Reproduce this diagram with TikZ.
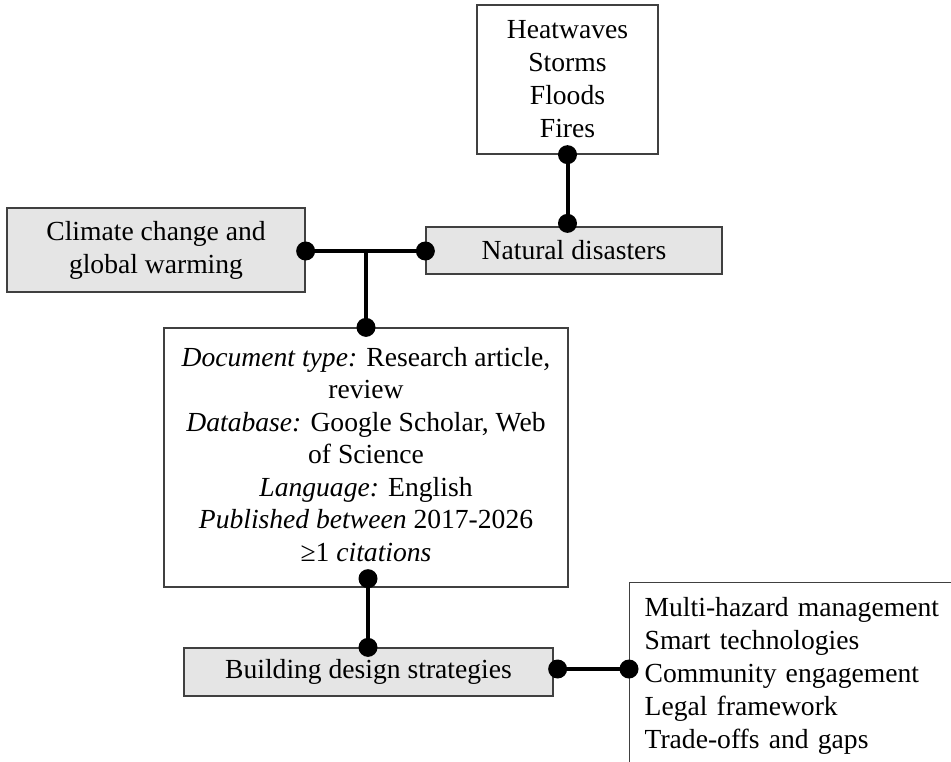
\documentclass[tikz,border=0pt]{standalone}
\usepackage{fontspec}
\setmainfont{Liberation Serif}
\usetikzlibrary{calc}
\begin{document}
\begin{tikzpicture}[x=1pt,y=-1pt,
  box/.style={draw=black!75, line width=1.3pt, inner sep=0pt, align=center,
    font=\fontsize{27.6}{33}\selectfont},
  shaded/.style={box, fill=black!10},
  link/.style={line width=4pt},
  joint/.style={fill=black}]
\useasboundingbox (0,0) rectangle (951,761);
\clip (0,0) rectangle (951,761);

% boxes
\node[box, minimum width=181pt, minimum height=149pt] (hazards) at (567.5,79.5)
  {Heatwaves\\Storms\\Floods\\Fires};
\node[shaded, minimum width=298pt, minimum height=84pt] (climate) at (156,250)
  {Climate change and\\global warming};
\node[shaded, minimum width=296pt, minimum height=47pt] (natural) at (574,250.5)
  {Natural disasters};
\node[box, minimum width=404pt, minimum height=259pt,
      font=\fontsize{27.6}{32.5}\selectfont] (criteria) at (366,457.5)
  {\textit{Document type:} Research article,\\review\\
   \textit{Database:} Google Scholar, Web\\of Science\\
   \textit{Language:} English\\
   \textit{Published between} 2017-2026\\
   ≥1 \textit{citations}\\[-25.5pt]};
\node[shaded, minimum width=369pt, minimum height=48pt] (building) at (368.5,672)
  {Building design strategies};
\node[box, anchor=north west, align=left, text width=300pt, inner xsep=15pt,
      inner ysep=15pt] (topics) at (629,582)
  {Multi-hazard management\\Smart technologies\\Community engagement\\
   Legal framework\\Trade-offs and gaps};

% connector end points
\coordinate (h1) at (hazards.south);
\coordinate (h2) at ($(hazards.south |- natural.north)+(0,-3)$);
\coordinate (c1) at ($(climate.east)+(0,1)$);
\coordinate (n1) at (c1 -| natural.west);
\coordinate (t1) at (c1 -| criteria.north);
\coordinate (d1) at (criteria.north);
\coordinate (d2) at ($(criteria.south)+(2,-9)$);
\coordinate (b1) at (d2 |- building.north);
\coordinate (b2) at ($(building.east)+(4,-3)$);
\coordinate (o1) at (b2 -| topics.west);

% connectors
\draw[link] (h1) -- (h2);
\draw[link] (c1) -- (n1);
\draw[link] (t1) -- (d1);
\draw[link] (d2) -- (b1);
\draw[link] (b2) -- (o1);

% joints
\foreach \p in {h1,h2,c1,n1,d1,d2,b1,b2,o1}
  \fill[joint] (\p) circle (9.5pt);
\end{tikzpicture}
\end{document}
